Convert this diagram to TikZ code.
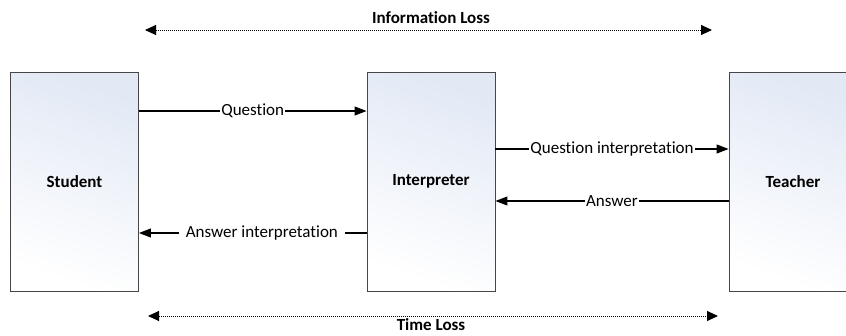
\documentclass[tikz,border=0pt]{standalone}
\usepackage{fontspec}
\setmainfont{Carlito}[Ligatures={NoCommon}]
\usetikzlibrary{arrows.meta}
\definecolor{boxtop}{RGB}{226,233,245}
\definecolor{boxline}{RGB}{70,70,70}
\begin{document}
\begin{tikzpicture}[x=1pt,y=-1pt,
  agent/.style={draw=boxline, line width=0.9pt, top color=boxtop, bottom color=white,
    shading angle=-20, minimum width=128pt, minimum height=219pt, inner sep=0pt,
    font=\fontsize{17}{19}\selectfont\bfseries},
  flow/.style={line width=1.1pt, -{Triangle[length=12pt,width=9pt]}},
  flowlabel/.style={fill=white, inner sep=1pt, font=\fontsize{17}{19}\selectfont},
  loss/.style={line width=0.9pt, dotted, dash pattern=on 1pt off 1pt,
    {Triangle[length=11pt,width=10pt]}-{Triangle[length=11pt,width=10pt]}},
  losslabel/.style={font=\fontsize{17}{19}\selectfont\bfseries, inner sep=0pt}]
\useasboundingbox (0,0) rectangle (846,335);
\clip (0,0) rectangle (846,335);
\fill[white] (0,0) rectangle (846,335);

\node[agent] (student) at (74.5,181.5) {Student};
\node[agent] (interp) at (431,181.5) {Interpreter};
\node[agent] (teacher) at (793,181.5) {Teacher};

\coordinate (s1) at (student.east |- 0,111);
\coordinate (i1) at (interp.west |- 0,111);
\draw[flow] (s1) -- node[flowlabel] {Question} (i1);

\coordinate (i2) at (interp.west |- 0,233);
\coordinate (s2) at (student.east |- 0,233);
\draw[flow] (i2) -- node[flowlabel, inner xsep=7pt, pos=0.46] {Answer interpretation} (s2);

\coordinate (i3) at (interp.east |- 0,149);
\coordinate (t3) at (teacher.west |- 0,149);
\draw[flow] (i3) -- node[flowlabel] {Question interpretation} (t3);

\coordinate (t4) at (teacher.west |- 0,201);
\coordinate (i4) at (interp.east |- 0,201);
\draw[flow] (t4) -- node[flowlabel] {Answer} (i4);

\coordinate (il1) at (145,30);
\coordinate (il2) at (712,30);
\draw[loss] (il1) -- (il2);
\node[losslabel] (infoloss) at (431,18) {Information Loss};

\coordinate (tl1) at (148,316);
\coordinate (tl2) at (718,316);
\draw[loss] (tl1) -- (tl2);
\node[losslabel] (timeloss) at (431,325) {Time Loss};
\end{tikzpicture}
\end{document}
